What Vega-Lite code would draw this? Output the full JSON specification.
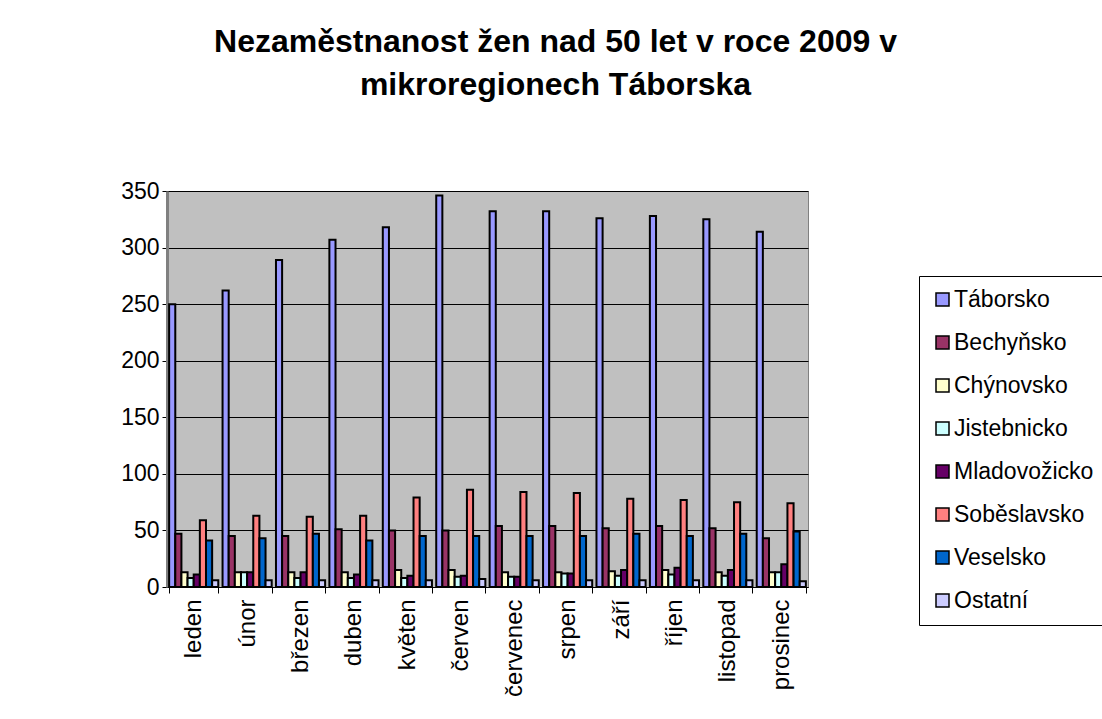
{
  "$schema": "https://vega.github.io/schema/vega-lite/v6.json",
  "width": 641,
  "height": 396,
  "autosize": {"type": "none"},
  "padding": {"left": 167, "top": 191, "right": 294, "bottom": 132},
  "background": "white",
  "title": {
    "text": ["Nezaměstnanost žen nad 50 let v roce 2009 v", "mikroregionech Táborska"],
    "font": "Liberation Sans",
    "fontSize": 32,
    "fontWeight": "bold",
    "color": "black",
    "anchor": "middle",
    "frame": "group",
    "dx": 68,
    "offset": 78,
    "lineHeight": 43
  },
  "data": {
    "values": [
      {"m": "leden", "r": "Táborsko", "v": 250}, {"m": "leden", "r": "Bechyňsko", "v": 47}, {"m": "leden", "r": "Chýnovsko", "v": 13}, {"m": "leden", "r": "Jistebnicko", "v": 8}, {"m": "leden", "r": "Mladovožicko", "v": 11}, {"m": "leden", "r": "Soběslavsko", "v": 59}, {"m": "leden", "r": "Veselsko", "v": 41}, {"m": "leden", "r": "Ostatní", "v": 6},
      {"m": "únor", "r": "Táborsko", "v": 262}, {"m": "únor", "r": "Bechyňsko", "v": 45}, {"m": "únor", "r": "Chýnovsko", "v": 13}, {"m": "únor", "r": "Jistebnicko", "v": 13}, {"m": "únor", "r": "Mladovožicko", "v": 13}, {"m": "únor", "r": "Soběslavsko", "v": 63}, {"m": "únor", "r": "Veselsko", "v": 43}, {"m": "únor", "r": "Ostatní", "v": 6},
      {"m": "březen", "r": "Táborsko", "v": 289}, {"m": "březen", "r": "Bechyňsko", "v": 45}, {"m": "březen", "r": "Chýnovsko", "v": 13}, {"m": "březen", "r": "Jistebnicko", "v": 8}, {"m": "březen", "r": "Mladovožicko", "v": 13}, {"m": "březen", "r": "Soběslavsko", "v": 62}, {"m": "březen", "r": "Veselsko", "v": 47}, {"m": "březen", "r": "Ostatní", "v": 6},
      {"m": "duben", "r": "Táborsko", "v": 307}, {"m": "duben", "r": "Bechyňsko", "v": 51}, {"m": "duben", "r": "Chýnovsko", "v": 13}, {"m": "duben", "r": "Jistebnicko", "v": 8}, {"m": "duben", "r": "Mladovožicko", "v": 11}, {"m": "duben", "r": "Soběslavsko", "v": 63}, {"m": "duben", "r": "Veselsko", "v": 41}, {"m": "duben", "r": "Ostatní", "v": 6},
      {"m": "květen", "r": "Táborsko", "v": 318}, {"m": "květen", "r": "Bechyňsko", "v": 50}, {"m": "květen", "r": "Chýnovsko", "v": 15}, {"m": "květen", "r": "Jistebnicko", "v": 8}, {"m": "květen", "r": "Mladovožicko", "v": 10}, {"m": "květen", "r": "Soběslavsko", "v": 79}, {"m": "květen", "r": "Veselsko", "v": 45}, {"m": "květen", "r": "Ostatní", "v": 6},
      {"m": "červen", "r": "Táborsko", "v": 346}, {"m": "červen", "r": "Bechyňsko", "v": 50}, {"m": "červen", "r": "Chýnovsko", "v": 15}, {"m": "červen", "r": "Jistebnicko", "v": 9}, {"m": "červen", "r": "Mladovožicko", "v": 10}, {"m": "červen", "r": "Soběslavsko", "v": 86}, {"m": "červen", "r": "Veselsko", "v": 45}, {"m": "červen", "r": "Ostatní", "v": 7},
      {"m": "červenec", "r": "Táborsko", "v": 332}, {"m": "červenec", "r": "Bechyňsko", "v": 54}, {"m": "červenec", "r": "Chýnovsko", "v": 13}, {"m": "červenec", "r": "Jistebnicko", "v": 9}, {"m": "červenec", "r": "Mladovožicko", "v": 9}, {"m": "červenec", "r": "Soběslavsko", "v": 84}, {"m": "červenec", "r": "Veselsko", "v": 45}, {"m": "červenec", "r": "Ostatní", "v": 6},
      {"m": "srpen", "r": "Táborsko", "v": 332}, {"m": "srpen", "r": "Bechyňsko", "v": 54}, {"m": "srpen", "r": "Chýnovsko", "v": 13}, {"m": "srpen", "r": "Jistebnicko", "v": 12}, {"m": "srpen", "r": "Mladovožicko", "v": 12}, {"m": "srpen", "r": "Soběslavsko", "v": 83}, {"m": "srpen", "r": "Veselsko", "v": 45}, {"m": "srpen", "r": "Ostatní", "v": 6},
      {"m": "září", "r": "Táborsko", "v": 326}, {"m": "září", "r": "Bechyňsko", "v": 52}, {"m": "září", "r": "Chýnovsko", "v": 14}, {"m": "září", "r": "Jistebnicko", "v": 10}, {"m": "září", "r": "Mladovožicko", "v": 15}, {"m": "září", "r": "Soběslavsko", "v": 78}, {"m": "září", "r": "Veselsko", "v": 47}, {"m": "září", "r": "Ostatní", "v": 6},
      {"m": "říjen", "r": "Táborsko", "v": 328}, {"m": "říjen", "r": "Bechyňsko", "v": 54}, {"m": "říjen", "r": "Chýnovsko", "v": 15}, {"m": "říjen", "r": "Jistebnicko", "v": 11}, {"m": "říjen", "r": "Mladovožicko", "v": 17}, {"m": "říjen", "r": "Soběslavsko", "v": 77}, {"m": "říjen", "r": "Veselsko", "v": 45}, {"m": "říjen", "r": "Ostatní", "v": 6},
      {"m": "listopad", "r": "Táborsko", "v": 325}, {"m": "listopad", "r": "Bechyňsko", "v": 52}, {"m": "listopad", "r": "Chýnovsko", "v": 13}, {"m": "listopad", "r": "Jistebnicko", "v": 10}, {"m": "listopad", "r": "Mladovožicko", "v": 15}, {"m": "listopad", "r": "Soběslavsko", "v": 75}, {"m": "listopad", "r": "Veselsko", "v": 47}, {"m": "listopad", "r": "Ostatní", "v": 6},
      {"m": "prosinec", "r": "Táborsko", "v": 314}, {"m": "prosinec", "r": "Bechyňsko", "v": 43}, {"m": "prosinec", "r": "Chýnovsko", "v": 13}, {"m": "prosinec", "r": "Jistebnicko", "v": 13}, {"m": "prosinec", "r": "Mladovožicko", "v": 20}, {"m": "prosinec", "r": "Soběslavsko", "v": 74}, {"m": "prosinec", "r": "Veselsko", "v": 49}, {"m": "prosinec", "r": "Ostatní", "v": 5}
    ]
  },
  "mark": {"type": "bar", "stroke": "black", "strokeWidth": 2},
  "encoding": {
    "x": {
      "field": "m",
      "type": "nominal",
      "sort": ["leden", "únor", "březen", "duben", "květen", "červen", "červenec", "srpen", "září", "říjen", "listopad", "prosinec"],
      "scale": {"paddingInner": 0.08, "paddingOuter": 0.04},
      "axis": {
        "title": null,
        "labelAngle": -90,
        "labelFont": "Liberation Sans",
        "labelFontSize": 24,
        "labelColor": "black",
        "tickBand": "extent",
        "tickColor": "black",
        "tickSize": 6,
        "labelPadding": 6,
        "domainColor": "black",
        "domainWidth": 1
      }
    },
    "xOffset": {
      "field": "r",
      "type": "nominal",
      "sort": ["Táborsko", "Bechyňsko", "Chýnovsko", "Jistebnicko", "Mladovožicko", "Soběslavsko", "Veselsko", "Ostatní"],
      "scale": {"paddingInner": 0, "paddingOuter": 0}
    },
    "y": {
      "field": "v",
      "type": "quantitative",
      "scale": {"domain": [0, 350], "nice": false},
      "axis": {
        "title": null,
        "values": [0, 50, 100, 150, 200, 250, 300, 350],
        "labelFont": "Liberation Sans",
        "labelFontSize": 23,
        "labelColor": "black",
        "grid": true,
        "gridColor": "black",
        "gridWidth": 1,
        "tickColor": "black",
        "tickSize": 5,
        "labelPadding": 3,
        "domainColor": "#808080",
        "domainWidth": 3
      }
    },
    "color": {
      "field": "r",
      "type": "nominal",
      "sort": ["Táborsko", "Bechyňsko", "Chýnovsko", "Jistebnicko", "Mladovožicko", "Soběslavsko", "Veselsko", "Ostatní"],
      "scale": {
        "domain": ["Táborsko", "Bechyňsko", "Chýnovsko", "Jistebnicko", "Mladovožicko", "Soběslavsko", "Veselsko", "Ostatní"],
        "range": ["#9999FF", "#993366", "#FFFFCC", "#CCFFFF", "#660066", "#FF8080", "#0066CC", "#CCCCFF"]
      },
      "legend": {
        "title": null,
        "orient": "none",
        "legendX": 752,
        "legendY": 85,
        "padding": 12,
        "strokeColor": "black",
        "fillColor": "white",
        "symbolType": "square",
        "symbolSize": 169,
        "symbolStrokeColor": "black",
        "symbolStrokeWidth": 1.5,
        "symbolOpacity": 1,
        "labelFont": "Liberation Sans",
        "labelFontSize": 23,
        "labelColor": "black",
        "labelOffset": 0,
        "rowPadding": 19
      }
    }
  },
  "config": {
    "view": {"fill": "#C0C0C0", "stroke": "#808080", "strokeWidth": 1}
  }
}
